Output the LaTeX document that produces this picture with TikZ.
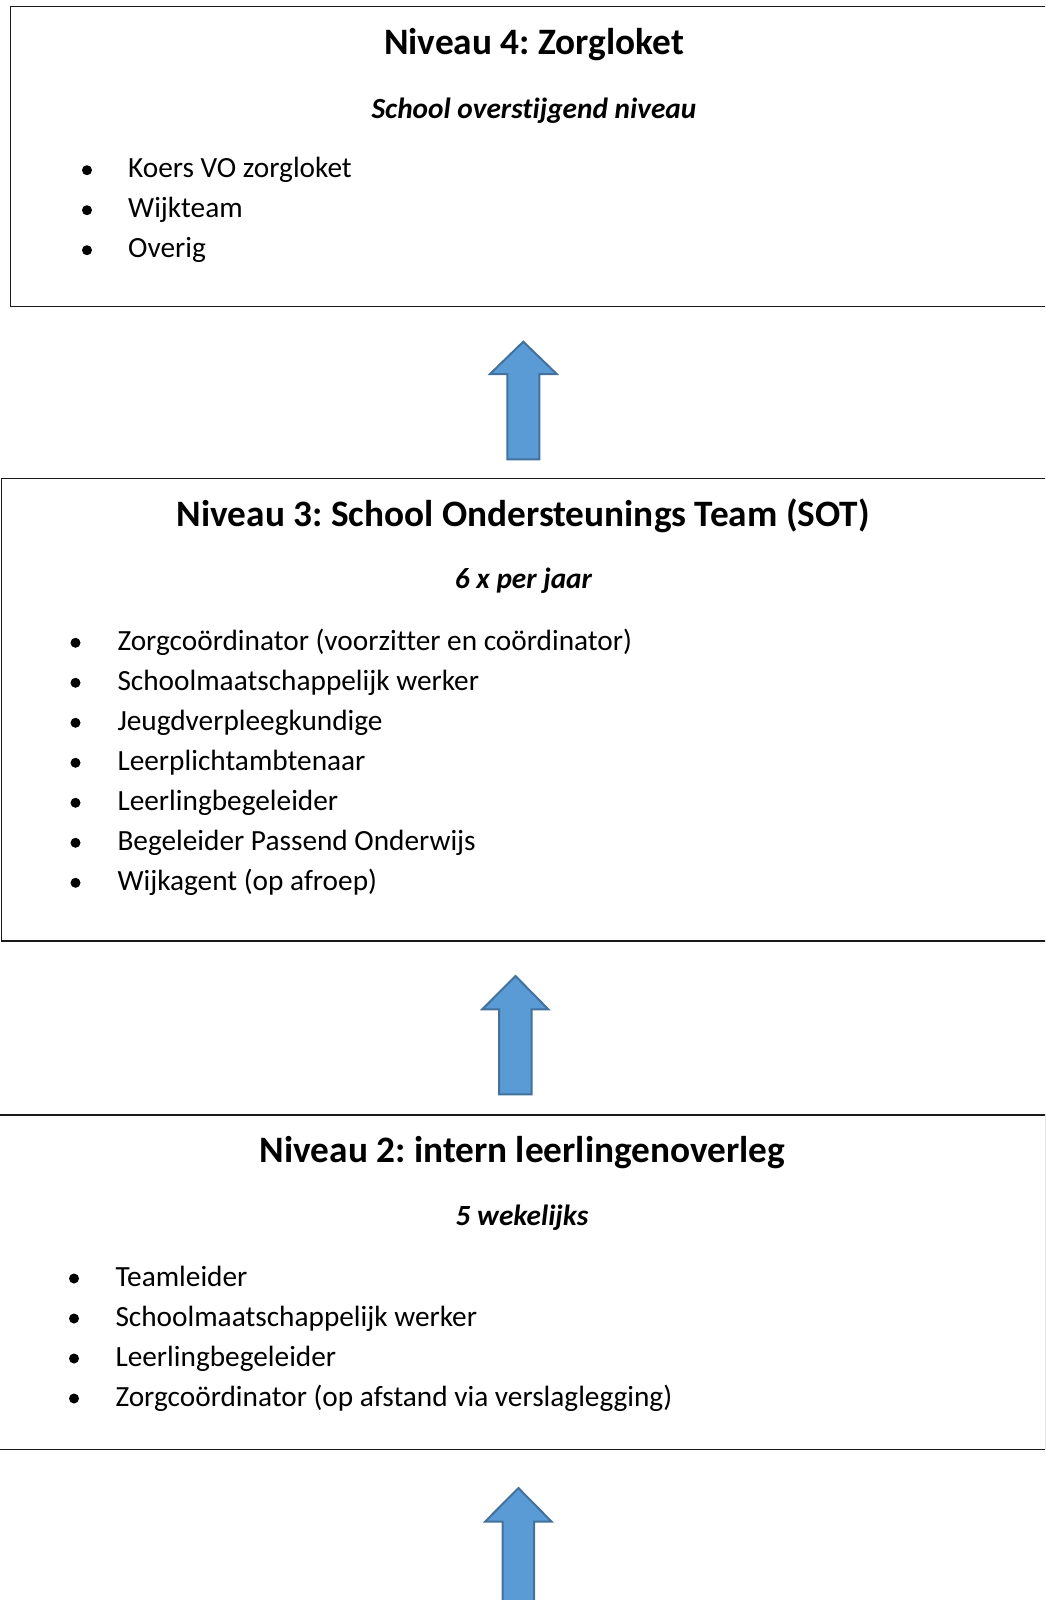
\documentclass[tikz,border=0pt]{standalone}
\usepackage{fontspec}
\setmainfont[Ligatures=NoCommon]{Carlito}
\frenchspacing
\definecolor{arrowfill}{HTML}{5B9BD5}
\definecolor{arrowline}{HTML}{41719C}
\begin{document}
\begin{tikzpicture}[x=1pt,y=-1pt,
  box/.style={draw=black!90, line width=1.4pt, rectangle, inner sep=0pt},
  title/.style={font=\fontsize{37.3}{44}\selectfont\bfseries, anchor=base, inner sep=0pt},
  sub/.style={font=\fontsize{29.3}{35}\selectfont\bfseries\itshape, anchor=base, inner sep=0pt},
  item/.style={font=\fontsize{29.3}{35}\selectfont, anchor=base west, inner sep=0pt},
  blt/.style={fill=black},
  uparrow/.style={fill=arrowfill, draw=arrowline, line width=2pt, line join=miter}]
\useasboundingbox (0,0) rectangle (1045,1600);
\clip (0,0) rectangle (1045,1600);
% boxes
\node[box, minimum width=1049.3pt, minimum height=300pt] (n4) at (535.35,156.7) {};
\node[box, minimum width=1058.5pt, minimum height=462.5pt] (n3) at (530.75,709.75) {};
\node[box, minimum width=1056pt, minimum height=334.3pt] (n2) at (518,1282.15) {};
% arrows
\draw[uparrow] (523.3,341.7) -- (556.7,374) -- (539.3,374) -- (539.3,459.3) -- (507.3,459.3) -- (507.3,374) -- (490,374) -- cycle;
\draw[uparrow] (515.5,976) -- (548.3,1009.3) -- (531.7,1009.3) -- (531.7,1094.3) -- (499,1094.3) -- (499,1009.3) -- (482.3,1009.3) -- cycle;
\draw[uparrow] (518.4,1488) -- (551.7,1521.7) -- (534,1521.7) -- (534,1612) -- (502.7,1612) -- (502.7,1521.7) -- (485,1521.7) -- cycle;
% level 4
\node[title] (t4) at (534,54.7) {Niveau 4: Zorgloket};
\node[sub] (s4) at (534,118) {School overstijgend niveau};
\foreach \t [count=\i from 0] in {Koers VO zorgloket, Wijkteam, Overig}{
  \node[item] (a\i) at (128,177.7+40*\i) {\t};
  \fill[blt] (87,170.2+40*\i) circle (5);
}
% level 3
\node[title] (t3) at (523.3,526) {Niveau 3: School Ondersteunings Team (SOT)};
\node[sub] (s3) at (523.5,588.7) {6 x per jaar};
\foreach \t [count=\i from 0] in {Zorgcoördinator (voorzitter en coördinator), Schoolmaatschappelijk werker, Jeugdverpleegkundige, Leerplichtambtenaar, Leerlingbegeleider, Begeleider Passend Onderwijs, Wijkagent (op afroep)}{
  \node[item] (b\i) at (117.3,650.3+40*\i) {\t};
  \fill[blt] (75.5,642.8+40*\i) circle (5);
}
% level 2
\node[title] (t2) at (522.5,1162.7) {Niveau 2: intern leerlingenoverleg};
\node[sub] (s2) at (522,1225) {5 wekelijks};
\foreach \t [count=\i from 0] in {Teamleider, Schoolmaatschappelijk werker, Leerlingbegeleider, Zorgcoördinator (op afstand via verslaglegging)}{
  \node[item] (c\i) at (115.3,1286+40*\i) {\t};
  \fill[blt] (74,1278.5+40*\i) circle (5);
}
\end{tikzpicture}
\end{document}
